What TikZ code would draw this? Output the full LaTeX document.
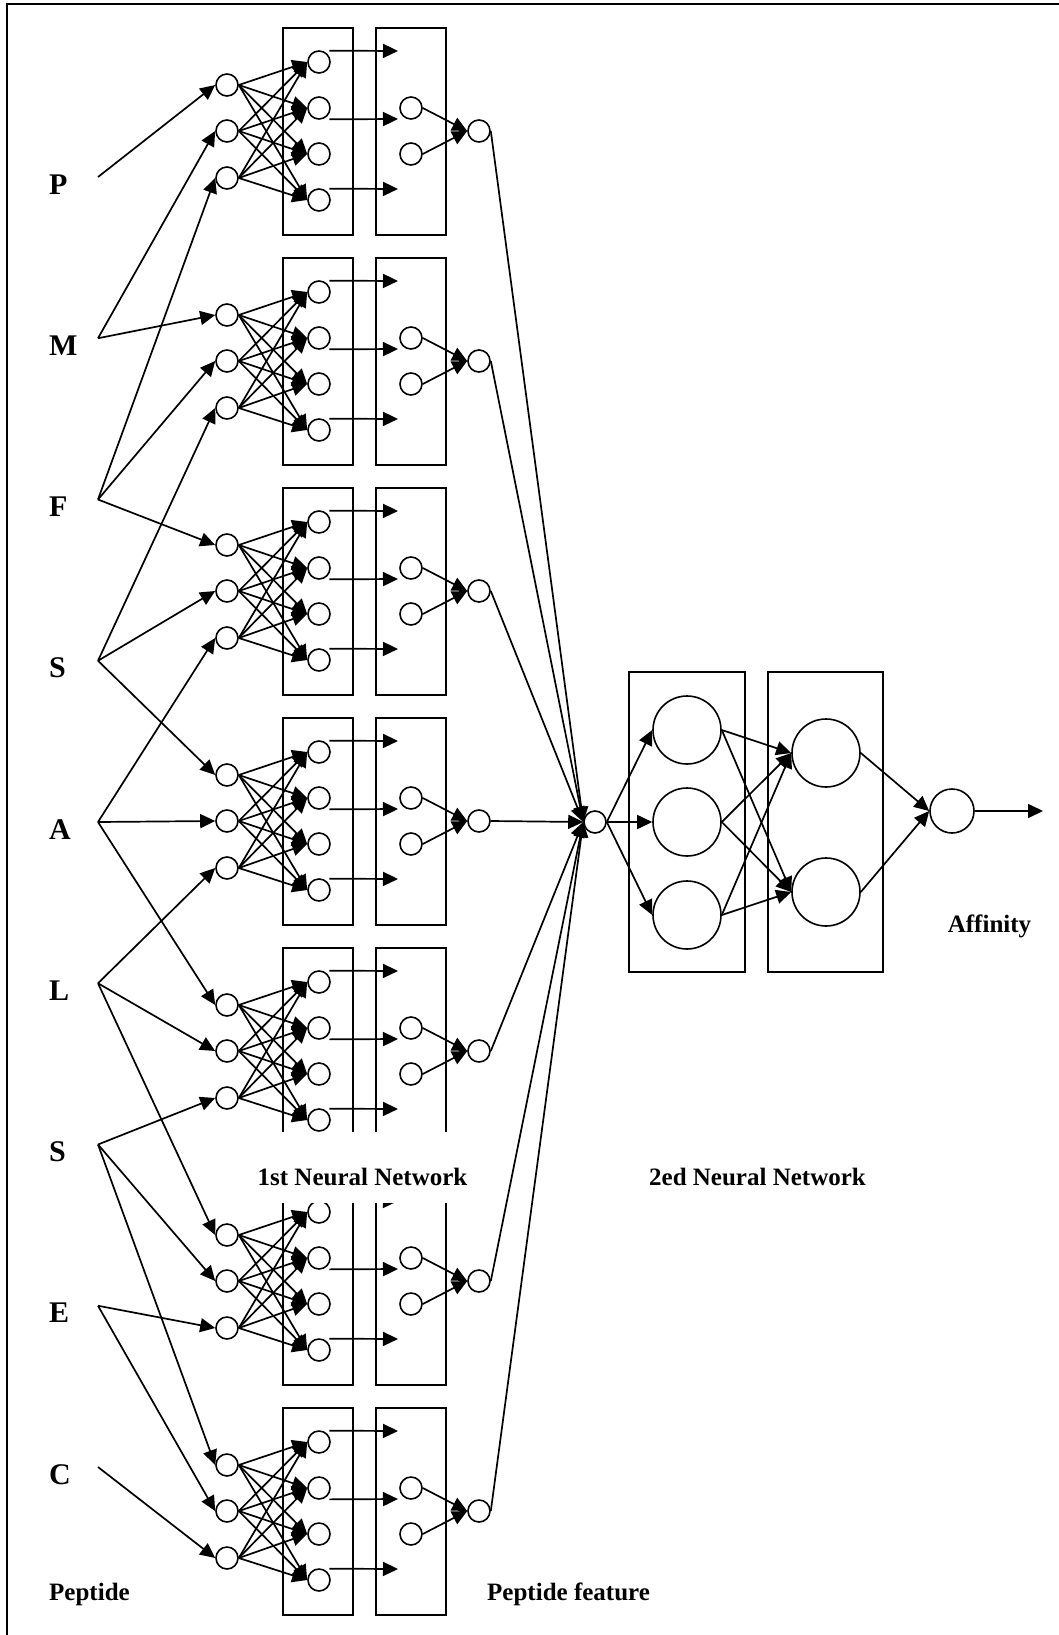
\documentclass[tikz,border=0pt]{standalone}
\usepackage{fontspec}
\setmainfont{Liberation Serif}
\usetikzlibrary{arrows.meta}
\begin{document}
\begin{tikzpicture}[x=1pt, y=-1pt,
neuron/.style={circle, draw=black, line width=1.6pt, minimum size=22pt, inner sep=0pt},
bigneuron/.style={neuron, minimum size=68pt},
outneuron/.style={neuron, minimum size=44pt},
layerbox/.style={draw=black, line width=1.7pt},
arr/.style={line width=1.7pt, -{Triangle[length=15pt, width=14pt]}},
residue/.style={font=\fontsize{30}{32}\selectfont\bfseries, inner sep=0pt, anchor=base west},
caption/.style={font=\fontsize{25}{28}\selectfont\bfseries, inner sep=0pt, anchor=base},
]
\useasboundingbox (0,0) rectangle (1058,1635);
\draw[line width=2.2pt] (7,1640) -- (7,4) -- (1060,4);

\foreach \n/\res in {0/P,1/M,2/F,3/S,4/A,5/L,6/S,7/E,8/C}{
  \node[residue] (r\n) at (49,{194+161.25*\n}) {\res};
  \coordinate (j\n) at (98,{177+161.25*\n});
}

\foreach \k in {0,...,6}{
  \pgfmathsetmacro{\off}{-230*\k}
  \begin{scope}[yshift=\off pt]
    \draw[layerbox] (283,28) rectangle (353,235);
    \draw[layerbox] (376,28) rectangle (446,235);
    \foreach \i/\y in {1/85,2/131,3/178}
      \node[neuron] (i\k\i) at (227,\y) {};
    \foreach \j/\y in {1/62,2/108,3/154,4/200}
      \node[neuron] (h\k\j) at (319,\y) {};
    \node[neuron] (f\k1) at (411,108) {};
    \node[neuron] (f\k2) at (411,154) {};
    \node[neuron] (o\k) at (479,131) {};
    \coordinate (t\k1) at (398,51);
    \coordinate (t\k2) at (398,119);
    \coordinate (t\k3) at (398,189);
    \foreach \i in {1,2,3}
      \foreach \j in {1,...,4}
        \draw[arr] (i\k\i.east) -- (h\k\j.west);
    \draw[arr] ([shift={(2,-3)}]h\k1.north east) -- (t\k1);
    \draw[arr] ([shift={(2,3)}]h\k2.south east) -- (t\k2);
    \draw[arr] ([shift={(2,-3)}]h\k4.north east) -- (t\k3);
    \draw[arr] (f\k1.east) -- (o\k.west);
    \draw[arr] (f\k2.east) -- (o\k.west);
  \end{scope}
}

\foreach \k in {0,...,6}
  \foreach \i in {1,2,3}{
    \pgfmathtruncatemacro{\n}{\k+\i-1}
    \draw[arr] (j\n) -- (i\k\i.west);
  }

\node[neuron] (hub) at (595,822) {};
\foreach \k in {0,...,6}
  \draw[arr] (o\k.east) -- (hub.west);

\draw[layerbox] (629,672) rectangle (745,972);
\draw[layerbox] (768,672) rectangle (883,972);
\foreach \i/\y in {1/730,2/822,3/915}
  \node[bigneuron] (p\i) at (687,\y) {};
\foreach \j/\y in {1/753,2/892}
  \node[bigneuron] (q\j) at (826,\y) {};
\node[outneuron] (aff) at (952,811) {};
\coordinate (affend) at (1043,811);
\foreach \i in {1,2,3}{
  \draw[arr] (hub.east) -- (p\i.west);
  \foreach \j in {1,2}
    \draw[arr] (p\i.east) -- (q\j.west);
}
\foreach \j in {1,2}
  \draw[arr] (q\j.east) -- (aff.west);
\draw[arr] (aff.east) -- (affend);

\node[caption, fill=white, text height=53pt, text depth=18pt] (nn1) at (362.5,1185) {1st Neural Network};
\node[caption] (nn2) at (757.5,1185) {2ed Neural Network};
\node[caption] (afflabel) at (989.5,932) {Affinity};
\node[caption, anchor=base west] (pep) at (49,1600) {Peptide};
\node[caption, anchor=base west] (feat) at (487,1600) {Peptide feature};
\end{tikzpicture}
\end{document}
